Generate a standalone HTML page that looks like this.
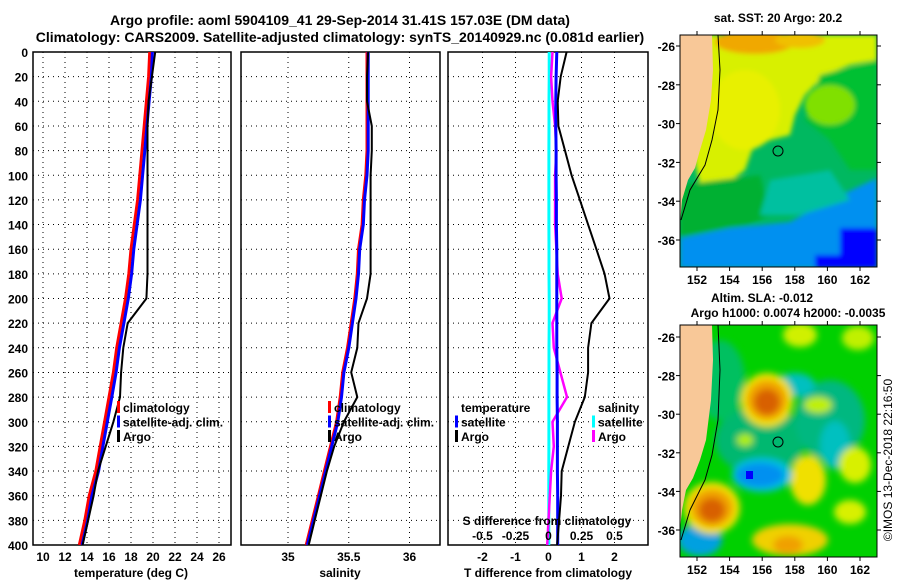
<!DOCTYPE html>
<html><head><meta charset="utf-8"><style>
html,body{margin:0;padding:0;background:#fff;}
svg{display:block;font-family:"Liberation Sans",sans-serif;font-weight:bold;}
</style></head><body>
<svg id="fig" width="900" height="580" viewBox="0 0 900 580" xmlns="http://www.w3.org/2000/svg">
<defs>
<filter id="bl" x="-50%" y="-50%" width="200%" height="200%"><feGaussianBlur stdDeviation="3.5"/></filter>
<filter id="bl2" x="-50%" y="-50%" width="200%" height="200%"><feGaussianBlur stdDeviation="2.5"/></filter>
<clipPath id="c1"><rect x="680" y="35" width="197" height="232"/></clipPath>
<clipPath id="c2"><rect x="680" y="325" width="197" height="232"/></clipPath>
<clipPath id="p1"><rect x="33" y="52" width="198" height="493"/></clipPath>
<clipPath id="p2"><rect x="241" y="52" width="199" height="493"/></clipPath>
<clipPath id="p3"><rect x="448" y="52" width="200" height="493"/></clipPath>
</defs>
<text x="340" y="25" font-size="14" text-anchor="middle">Argo profile: aoml 5904109_41 29-Sep-2014 31.41S 157.03E (DM data)</text>
<text x="340" y="42" font-size="14" text-anchor="middle">Climatology: CARS2009. Satellite-adjusted climatology: synTS_20140929.nc (0.081d earlier)</text>
<g id="axes"></g>
<g id="maps">
 <g clip-path="url(#c1)">
  <rect x="680" y="35" width="197" height="232" fill="#00b860"/>
  <g filter="url(#bl2)">
   <polygon points="680,35 877,35 877,60 850,65 825,75 805,95 795,115 790,135 770,140 752,150 745,170 725,185 700,185 690,140 690,35" fill="#d8f000"/>
   <ellipse cx="755" cy="42" rx="40" ry="12" fill="#f0a800"/>
   <ellipse cx="800" cy="40" rx="25" ry="8" fill="#f0c000"/>
   <ellipse cx="745" cy="110" rx="35" ry="40" fill="#e8f000"/>
   <polygon points="820,75 877,60 877,170 850,170 830,140 805,120" fill="#00c030"/>
   <ellipse cx="830" cy="105" rx="25" ry="20" fill="#80e000"/>
   <polygon points="680,185 760,175 770,215 730,235 680,240" fill="#00b030"/>
   <polygon points="680,238 730,228 790,222 830,200 877,178 877,268 680,268" fill="#0090f0"/>
   <polygon points="770,180 830,170 850,200 800,215 760,215" fill="#00c0a0"/>
   <rect x="840" y="228" width="37" height="40" fill="#0000ff"/>
   <rect x="815" y="255" width="30" height="13" fill="#0000ff"/>
  </g>
  <polygon points="680,35 712,35 713,70 711,100 706,130 700,150 695,168 688,180 682,200 680,225" fill="#f8c898"/>
  <polyline points="718,35 720,70 718,110 712,140 705,165 690,190 681,220" fill="none" stroke="#000" stroke-width="1"/>
  <circle cx="778" cy="151" r="5" fill="none" stroke="#000"/>
 </g>
 <rect x="680" y="35" width="197" height="232" fill="none" stroke="#000"/>
 <g clip-path="url(#c2)">
  <rect x="680" y="325" width="197" height="232" fill="#00d000"/>
  <g filter="url(#bl)">
   <ellipse cx="760" cy="440" rx="45" ry="35" fill="#00b870"/>
   <ellipse cx="830" cy="420" rx="35" ry="40" fill="#00b880"/>
   <ellipse cx="720" cy="380" rx="25" ry="40" fill="#00c060"/>
   <ellipse cx="795" cy="385" rx="20" ry="12" fill="#00c0c0"/>
   <ellipse cx="835" cy="445" rx="15" ry="24" fill="#00c0c0"/>
   <ellipse cx="700" cy="540" rx="22" ry="16" fill="#00a0e0"/>
   <ellipse cx="800" cy="335" rx="17" ry="12" fill="#d0f000"/>
   <ellipse cx="858" cy="338" rx="16" ry="12" fill="#c0f000"/>
   <ellipse cx="855" cy="465" rx="16" ry="18" fill="#d8f000"/>
   <ellipse cx="850" cy="512" rx="16" ry="12" fill="#d8f000"/>
   <ellipse cx="818" cy="405" rx="14" ry="8" fill="#c0f000"/>
   <ellipse cx="745" cy="440" rx="8" ry="6" fill="#b0f000"/>
   <ellipse cx="808" cy="480" rx="18" ry="25" fill="#f0e000"/>
   <ellipse cx="790" cy="540" rx="38" ry="16" fill="#f0d000"/>
   <ellipse cx="788" cy="545" rx="15" ry="9" fill="#f0a000"/>
   <ellipse cx="767" cy="400" rx="26" ry="27" fill="#f0e000"/>
   <ellipse cx="767" cy="400" rx="20" ry="20" fill="#f0a000"/>
   <ellipse cx="767" cy="402" rx="13" ry="13" fill="#d86000"/>
   <ellipse cx="712" cy="508" rx="28" ry="26" fill="#f0e000"/>
   <ellipse cx="712" cy="508" rx="21" ry="19" fill="#f0a000"/>
   <ellipse cx="712" cy="510" rx="13" ry="12" fill="#d86000"/>
   <ellipse cx="762" cy="475" rx="30" ry="17" fill="#00c0e0"/>
   <ellipse cx="760" cy="475" rx="24" ry="12" fill="#0090f0"/>
  </g>
  <rect x="746" y="471" width="7" height="8" fill="#0000ff"/>
  <polygon points="680,325 712,325 713,360 711,400 706,440 700,460 693,478 686,490 682,510 680,530" fill="#f8c898"/>
  <polyline points="718,325 720,370 718,420 712,455 705,480 690,510 681,540" fill="none" stroke="#000" stroke-width="1"/>
  <circle cx="778" cy="442" r="5" fill="none" stroke="#000"/>
 </g>
 <rect x="680" y="325" width="197" height="232" fill="none" stroke="#000"/>
 <text x="778" y="22" font-size="12" text-anchor="middle">sat. SST: 20 Argo: 20.2</text>
 <text x="762" y="302" font-size="12" text-anchor="middle">Altim. SLA: -0.012</text>
 <text x="788" y="317" font-size="12" text-anchor="middle">Argo h1000: 0.0074 h2000: -0.0035</text>
 <text transform="translate(892,460) rotate(-90)" font-size="12" font-weight="normal" text-anchor="middle">©IMOS 13-Dec-2018 22:16:50</text>
</g>
<g id="mapticks"></g>
</svg>
<script>
const NS='http://www.w3.org/2000/svg';
const depths=[0,20,40,60,80,100,120,140,160,180,200,220,240,260,280,300,320,340,360,380,400];
const climT=[19.7,19.6,19.4,19.2,19.0,18.8,18.6,18.3,18.0,17.8,17.5,17.1,16.7,16.4,16.0,15.6,15.2,14.8,14.2,13.8,13.3];
const satT=[19.95,19.85,19.65,19.45,19.25,19.05,18.85,18.55,18.25,18.05,17.75,17.35,16.95,16.65,16.25,15.85,15.45,15.05,14.45,14.05,13.55];
const argoT=[20.2,19.9,19.6,19.5,19.5,19.5,19.5,19.5,19.5,19.5,19.4,17.7,17.3,17.1,17.0,16.4,15.7,15.0,14.6,14.1,13.6];
const climS=[35.65,35.65,35.65,35.65,35.65,35.64,35.62,35.61,35.58,35.57,35.55,35.52,35.49,35.45,35.43,35.40,35.35,35.30,35.25,35.20,35.15];
const satS=[35.66,35.66,35.66,35.66,35.66,35.65,35.63,35.62,35.59,35.58,35.56,35.53,35.50,35.46,35.44,35.41,35.36,35.31,35.26,35.21,35.16];
const argoS=[35.66,35.65,35.65,35.69,35.69,35.68,35.68,35.68,35.68,35.68,35.65,35.58,35.57,35.52,35.57,35.46,35.38,35.32,35.27,35.22,35.17];
const dTsat=[0.25,0.23,0.22,0.22,0.23,0.23,0.24,0.24,0.25,0.25,0.25,0.25,0.25,0.26,0.26,0.27,0.27,0.27,0.28,0.28,0.28];
const dTargo=[0.55,0.37,0.28,0.3,0.5,0.7,0.95,1.2,1.45,1.7,1.85,1.3,1.2,1.2,1.1,0.8,0.6,0.4,0.38,0.32,0.26];
const dSsat=[0.005,0.005,0.004,0.004,0.003,0.003,0.003,0.003,0.004,0.004,0.005,0.005,0.004,0.004,0.003,0.003,0.003,0.002,0.002,0.002,0.002];
const dSargo=[0.03,0.02,0.03,0.05,0.06,0.05,0.05,0.05,0.06,0.07,0.1,0.03,0.04,0.09,0.14,0.03,0.04,0.02,0.01,0.0,-0.01];
const depthTicks=[0,20,40,60,80,100,120,140,160,180,200,220,240,260,280,300,320,340,360,380,400];
const tTicks=[10,12,14,16,18,20,22,24,26];
const sTicks=[35,35.5,36];
const dtTicks=[-2,-1,0,1,2];
const dsTickLabels=['-0.5','-0.25','0','0.25','0.5'];
const dsTicks=[-0.5,-0.25,0,0.25,0.5];
const lonTicks=[152,154,156,158,160,162];
const latTicks=[-26,-28,-30,-32,-34,-36];

const Y=d=>52+d*493/400;
const xT=v=>43+(v-10)*11;
const xS=v=>288+(v-35)*121.5;
const xDT=v=>548.5+v*33;
const xDS=v=>548.5+v*132;
const lonX=l=>697+(l-152)*16.3;
const lat1=l=>46+(-26-l)*19.4;
const lat2=l=>337+(-26-l)*19.3;

const ax=document.getElementById('axes');
function el(tag,attrs,parent){const e=document.createElementNS(NS,tag);for(const k in attrs)e.setAttribute(k,attrs[k]);(parent||ax).appendChild(e);return e;}
function txt(x,y,s,anchor,size,parent){const t=el('text',{x:x,y:y,'font-size':size||12,'text-anchor':anchor||'middle'},parent);t.textContent=s;return t;}

function panel(x0,x1,name,xs,ticks,labels){
  const g=el('g',{});
  
  
  depthTicks.forEach(d=>{if(d>0&&d<400)el('line',{x1:x0,x2:x1,y1:Y(d),y2:Y(d),stroke:'#000','stroke-dasharray':'1,4'},g);});
  ticks.forEach(v=>{const x=xs(v);el('line',{x1:x,x2:x,y1:52,y2:545,stroke:'#000','stroke-dasharray':'1,4'},g);});
  el('rect',{x:x0,y:52,width:x1-x0,height:493,fill:'none',stroke:'#000','stroke-width':1.5},g);
  if(labels){ticks.forEach((v,i)=>{const t=txt(xs(v),561,labels[i],'middle',12,g);
    
    });}
  return g;
}
function line(xs,vals,color,w,g,name){
  const pts=depths.map((d,i)=>xs(vals[i]).toFixed(1)+','+Y(d).toFixed(1)).join(' ');
  const p=el('polyline',{points:pts,fill:'none',stroke:color,'stroke-width':w,'stroke-linejoin':'miter'},g);
  
  
}
depthTicks.forEach(d=>{const t=txt(28,Y(d)+5,String(d),'end',12);
  
  });

const g1=panel(33,231,'temperature-panel',xT,tTicks,tTicks.map(String));
const c1=el('g',{'clip-path':'url(#p1)'},g1);
line(xT,climT,'#f00',3,c1,'climatology-temperature-line');
line(xT,satT,'#00f',3,c1,'satellite-temperature-line');
line(xT,argoT,'#000',2,c1,'argo-temperature-line');
const xl1=txt(131,577,'temperature (deg C)','middle',12);



const g2=panel(241,440,'salinity-panel',xS,sTicks,sTicks.map(String));
const c2=el('g',{'clip-path':'url(#p2)'},g2);
line(xS,climS,'#f00',3,c2,'climatology-salinity-line');
line(xS,satS,'#00f',3,c2,'satellite-salinity-line');
line(xS,argoS,'#000',2,c2,'argo-salinity-line');
const xl2=txt(340,577,'salinity','middle',12);



const g3=panel(448,648,'difference-panel',xDT,dtTicks,dtTicks.map(String));
const c3=el('g',{'clip-path':'url(#p3)'},g3);
line(xDS,dSsat,'#0ff',3,c3,'salinity-satellite-diff-line');
line(xDS,dSargo,'#f0f',2.5,c3,'salinity-argo-diff-line');
line(xDT,dTsat,'#00f',3,c3,'temperature-satellite-diff-line');
line(xDT,dTargo,'#000',2,c3,'temperature-argo-diff-line');
const xl3=txt(548,577,'T difference from climatology','middle',12);


const sl=txt(547,525,'S difference from climatology','middle',12);


dsTicks.forEach((v,i)=>{const t=txt(xDS(v),540,dsTickLabels[i],'middle',12);
  
  });

function legend(x,y,items,name){
  const g=el('g',{});
  
  
  items.forEach((it,i)=>{
    const yy=y+i*14.5;
    if(it[1])el('rect',{x:x,y:yy-11,width:3,height:12,fill:it[1]},g);
    txt(x+6,yy,it[0],'start',12,g);
  });
}
legend(117,412,[['climatology','#f00'],['satellite-adj. clim.','#00f'],['Argo','#000']],'temperature-legend');
legend(328,412,[['climatology','#f00'],['satellite-adj. clim.','#00f'],['Argo','#000']],'salinity-legend');
legend(455,412,[['temperature',null],['satellite','#00f'],['Argo','#000']],'t-diff-legend');
legend(592,412,[['salinity',null],['satellite','#0ff'],['Argo','#f0f']],'s-diff-legend');

const mt=document.getElementById('mapticks');
[[35,267,lat1],[325,557,lat2]].forEach((m)=>{
  lonTicks.forEach(l=>{const x=lonX(l);
    el('line',{x1:x,x2:x,y1:m[0],y2:m[0]-4,stroke:'#000'},mt);
    el('line',{x1:x,x2:x,y1:m[1],y2:m[1]+4,stroke:'#000'},mt);
    const t=txt(x,m[1]+17,String(l),'middle',12,mt);
    
    });
  latTicks.forEach(l=>{const y=m[2](l);
    el('line',{x1:877,x2:881,y1:y,y2:y,stroke:'#000'},mt);
    el('line',{x1:676,x2:680,y1:y,y2:y,stroke:'#000'},mt);
    const t=txt(675,y+5,String(l),'end',12,mt);
    
    });
});
</script>
</body></html>
